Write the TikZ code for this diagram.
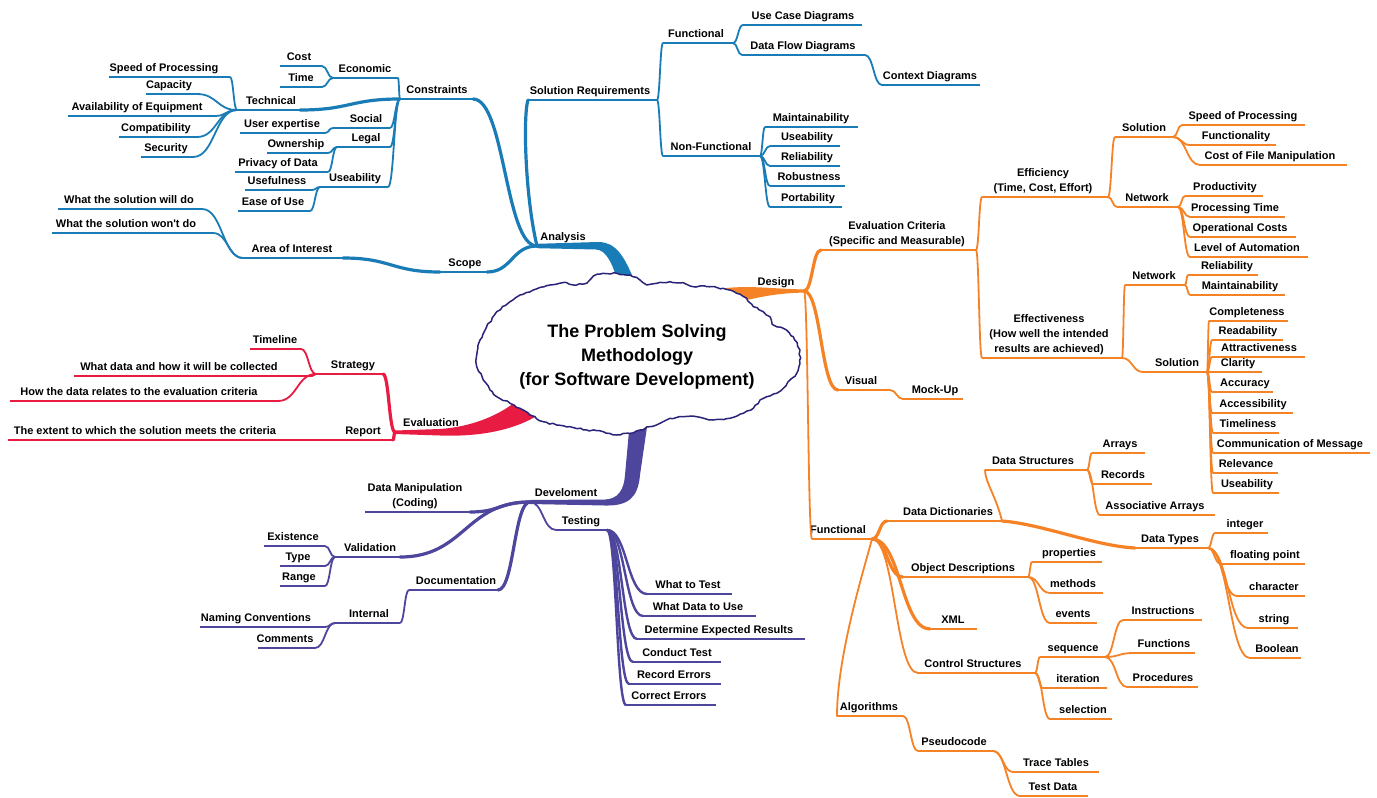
\documentclass[tikz,border=0pt]{standalone}
\usepackage{fontspec}
\setmainfont{Liberation Sans}[Ligatures=TeXOff]
\usetikzlibrary{calc,decorations.pathmorphing}

\definecolor{cblue}{RGB}{26,124,182}
\definecolor{corange}{RGB}{246,130,38}
\definecolor{cred}{RGB}{232,28,66}
\definecolor{cpurple}{RGB}{78,70,156}
\definecolor{ccloud}{RGB}{42,36,120}

\newcommand\lblfont{\fontsize{11}{15}\selectfont\bfseries}

% topic: [underline opts]{name}{colour}{x left}{x right}{y of underline}{x of text}{text}
\newcommand\topic[8][]{%
  \coordinate (#2-l) at (#4,#6);
  \coordinate (#2-r) at (#5,#6);
  \draw[#3,ul,#1] (#2-l) -- (#2-r);
  \node[lbl] (#2) at (#7,#6-3) {#8};}

% S-shaped connector leaving and entering horizontally
\newcommand\conn[3][]{\draw[cn,#1] let \p1=(#2), \p2=(#3),
  \n1={0.5*(\x2-\x1)}, \n2={-0.5*(\x2-\x1)} in
  (#2) .. controls +(\n1,0) and +(\n2,0) .. (#3);}

\tikzset{
  ul/.style={line width=2.9pt},
  cn/.style={line width=1.8pt, line cap=round},
  cnA/.style={line width=3.2pt, line cap=round},
  lbl/.style={anchor=south, inner sep=0pt, text depth=2.5pt, font=\lblfont, align=center},
}

\begin{document}
\begin{tikzpicture}[x=1pt,y=-1pt]
\useasboundingbox (0,0) rectangle (1377,798);
\fill[white] (0,0) rectangle (1377,798);

% ---- trunks from the central cloud ----
\fill[cblue] (537,243.8) -- (598,242) .. controls (615,242) and (624,254) .. (636,285)
  -- (619,285) .. controls (612,262) and (606,250) .. (596,249.5) -- (537,248.2) -- cycle;
\fill[corange] (712,290) .. controls (745,284) and (770,289) .. (804,289.4)
  -- (804,292.6) .. controls (775,293) and (755,298) .. (730,304) -- cycle;
\fill[cred] (395,430.5) -- (440,429) .. controls (470,427) and (500,416) .. (520,398)
  -- (540,414) .. controls (515,430) and (480,437) .. (440,435.5) -- (395,434) -- cycle;
\fill[cpurple] (530,500) -- (605,499.5) .. controls (618,499) and (624,490) .. (625,475)
  -- (630,420) -- (648,420) -- (640,475) .. controls (638,498) and (628,506) .. (605,505.5)
  -- (530,504) -- cycle;

% ---- central cloud ----
\draw[ccloud, line width=1.5pt, fill=white, line join=round,
      decorate, decoration={random steps, segment length=3.5pt, amplitude=0.9pt}]
  (586.7,283.3) -- (593.3,276) -- (603.3,273.3) -- (616.7,273.3) -- (630,275) -- (640,280)
  -- (646.7,285) -- (656.7,283.3) -- (670,281.7) -- (683.3,282.7) -- (693.3,286.7)
  -- (706.7,286.7) -- (723.3,288.3) -- (736.7,293.3) -- (746.7,298.3) -- (753.3,306.7)
  -- (763.3,311.7) -- (770,316.7) -- (773.3,325) -- (783.3,328.3) -- (793.3,336.7)
  -- (800,350) -- (800,363.3) -- (796.7,373.3) -- (790,380) -- (783.3,388.3) -- (776.7,393.3)
  -- (766.7,396.7) -- (760,400) -- (753.3,408.3) -- (743.3,413.3) -- (730,418.3)
  -- (713.3,420) -- (696.7,416.7) -- (683.3,416.7) -- (670,418.3) -- (660,423.3)
  -- (650,426.7) -- (640,430) -- (630,433.3) -- (616.7,435) -- (603.3,431.7) -- (586.7,430)
  -- (570,426.7) -- (556.7,425) -- (543.3,421.7) -- (530,415) -- (520,408.3) -- (510,403.3)
  -- (496.7,396.7) -- (490,390) -- (483.3,380) -- (476.7,366.7) -- (476.7,355) -- (480,340)
  -- (486.7,326.7) -- (496.7,311.7) -- (510,301.7) -- (520,295) -- (533.3,290) -- (550,285)
  -- (566.7,282.7) -- (576.7,285) -- cycle;
\node[font=\fontsize{18}{24}\selectfont\bfseries, align=center] (title) at (637,357)
  {The Problem Solving\\Methodology\\(for Software Development)};

% ================= Analysis =================
\topic[draw=none]{analysis}{cblue}{537}{600}{246}{563}{Analysis}
\topic{constraints}{cblue}{400}{473}{99}{437}{Constraints}
\topic{solreq}{cblue}{528}{657}{100}{590}{Solution Requirements}
\topic{scope}{cblue}{440}{487}{272}{465}{Scope}
\conn[cblue,cnA]{analysis-l}{constraints-r}
\conn[cblue,cnA]{analysis-l}{scope-r}
\draw[cblue,cnA] (analysis-l) .. controls +(-12,-50) and +(-5,15) .. (solreq-l);

\topic{economic}{cblue}{333}{398}{78}{365}{Economic}
\topic{technical}{cblue}{237}{300}{110}{271}{Technical}
\topic{social}{cblue}{333}{390}{128}{366}{Social}
\topic{legal}{cblue}{337}{390}{147}{366}{Legal}
\topic{useabA}{cblue}{320}{388}{187}{355}{Useability}
\foreach \c in {economic,social,legal,useabA} {\conn[cblue]{constraints-l}{\c-r}}
\conn[cblue,cnA]{constraints-l}{technical-r}

\topic{cost}{cblue}{280}{322}{66}{299}{Cost}
\topic{time}{cblue}{280}{322}{87}{301}{Time}
\conn[cblue]{economic-l}{cost-r}
\conn[cblue]{economic-l}{time-r}

\topic{speedA}{cblue}{109}{230}{77}{164}{Speed of Processing}
\topic{capacity}{cblue}{146}{197}{94}{169}{Capacity}
\topic{avail}{cblue}{68}{215}{116}{137}{Availability of Equipment}
\topic{compat}{cblue}{119}{197}{137}{156}{Compatibility}
\topic{security}{cblue}{141}{193}{157}{166}{Security}
\foreach \c in {speedA,capacity,avail,compat,security} {\conn[cblue]{technical-l}{\c-r}}

\topic{userexp}{cblue}{240}{325}{133}{282}{User expertise}
\conn[cblue]{social-l}{userexp-r}
\topic{owner}{cblue}{267}{328}{153}{296}{Ownership}
\topic{privacy}{cblue}{235}{328}{172}{278}{Privacy of Data}
\conn[cblue]{legal-l}{owner-r}
\conn[cblue]{legal-l}{privacy-r}
\topic{usefulness}{cblue}{245}{312}{190}{277}{Usefulness}
\topic{easeuse}{cblue}{238}{310}{211}{273}{Ease of Use}
\conn[cblue]{useabA-l}{usefulness-r}
\conn[cblue]{useabA-l}{easeuse-r}

\topic{aoi}{cblue}{243}{343}{258}{292}{Area of Interest}
\conn[cblue,cnA]{scope-l}{aoi-r}
\topic{willdo}{cblue}{58}{202}{209}{129}{What the solution will do}
\topic{wontdo}{cblue}{52}{213}{233}{126}{What the solution won't do}
\conn[cblue]{aoi-l}{willdo-r}
\conn[cblue]{aoi-l}{wontdo-r}

\topic{functionalA}{cblue}{663}{733}{43}{696}{Functional}
\topic{nonfunc}{cblue}{663}{760}{156}{711}{Non-Functional}
\conn[cblue]{solreq-r}{functionalA-l}
\conn[cblue]{solreq-r}{nonfunc-l}
\topic{usecase}{cblue}{743}{862}{25}{803}{Use Case Diagrams}
\topic{dataflow}{cblue}{742}{865}{55}{803}{Data Flow Diagrams}
\conn[cblue]{functionalA-r}{usecase-l}
\conn[cblue]{functionalA-r}{dataflow-l}
\topic{context}{cblue}{882}{980}{85}{930}{Context Diagrams}
\conn[cblue]{dataflow-r}{context-l}
\topic{maintA}{cblue}{765}{858}{127}{811}{Maintainability}
\topic{useabB}{cblue}{770}{840}{146}{807}{Useability}
\topic{reliabA}{cblue}{770}{840}{166}{807}{Reliability}
\topic{robust}{cblue}{770}{845}{186}{809}{Robustness}
\topic{portab}{cblue}{770}{842}{207}{808}{Portability}
\foreach \c in {maintA,useabB,reliabA,robust,portab} {\conn[cblue]{nonfunc-r}{\c-l}}

% ================= Design =================
\topic[draw=none]{design}{corange}{804}{804}{291}{776}{Design}
\topic{evalcrit}{corange}{821}{976}{250}{897}{Evaluation Criteria\\(Specific and Measurable)}
\topic{visual}{corange}{838}{890}{390}{861}{Visual}
\topic{functionalB}{corange}{812}{872}{539}{838}{Functional}
\conn[corange,cnA]{design-r}{evalcrit-l}
\conn[corange,cnA]{design-r}{visual-l}
\conn[corange]{design-r}{functionalB-l}
\topic{mockup}{corange}{903}{963}{399}{935}{Mock-Up}
\conn[corange]{visual-r}{mockup-l}

\topic{efficiency}{corange}{982}{1108}{197}{1043}{Efficiency\\(Time, Cost, Effort)}
\topic{effective}{corange}{982}{1122}{358}{1049}{Effectiveness\\(How well the intended\\results are achieved)}
\conn[corange]{evalcrit-r}{efficiency-l}
\conn[corange]{evalcrit-r}{effective-l}

\topic{solA}{corange}{1115}{1173}{137}{1144}{Solution}
\topic{netA}{corange}{1117}{1178}{207}{1147}{Network}
\conn[corange]{efficiency-r}{solA-l}
\conn[corange]{efficiency-r}{netA-l}
\topic{speedB}{corange}{1182}{1305}{125}{1243}{Speed of Processing}
\topic{functy}{corange}{1190}{1276}{145}{1236}{Functionality}
\topic{costfile}{corange}{1200}{1347}{165}{1270}{Cost of File Manipulation}
\foreach \c in {speedB,functy,costfile} {\conn[corange]{solA-r}{\c-l}}
\topic{product}{corange}{1185}{1263}{196}{1225}{Productivity}
\topic{proctime}{corange}{1190}{1285}{217}{1235}{Processing Time}
\topic{opcost}{corange}{1190}{1296}{237}{1240}{Operational Costs}
\topic{levelauto}{corange}{1190}{1308}{257}{1247}{Level of Automation}
\foreach \c in {product,proctime,opcost,levelauto} {\conn[corange]{netA-r}{\c-l}}

\topic{netB}{corange}{1125}{1185}{285}{1154}{Network}
\topic{solB}{corange}{1143}{1207}{372}{1177}{Solution}
\conn[corange]{effective-r}{netB-l}
\conn[corange]{effective-r}{solB-l}
\topic{reliabB}{corange}{1188}{1258}{275}{1227}{Reliability}
\topic{maintB}{corange}{1190}{1285}{295}{1240}{Maintainability}
\conn[corange]{netB-r}{reliabB-l}
\conn[corange]{netB-r}{maintB-l}
\topic{complete}{corange}{1209}{1288}{321}{1247}{Completeness}
\topic{readab}{corange}{1212}{1283}{340}{1248}{Readability}
\topic{attract}{corange}{1212}{1305}{357}{1259}{Attractiveness}
\topic{clarity}{corange}{1212}{1262}{372}{1238}{Clarity}
\topic{accuracy}{corange}{1212}{1273}{392}{1245}{Accuracy}
\topic{access}{corange}{1212}{1293}{413}{1253}{Accessibility}
\topic{timely}{corange}{1213}{1279}{433}{1248}{Timeliness}
\topic{commmsg}{corange}{1213}{1370}{453}{1290}{Communication of Message}
\topic{relev}{corange}{1213}{1278}{473}{1246}{Relevance}
\topic{useabC}{corange}{1213}{1279}{493}{1247}{Useability}
\foreach \c in {complete,readab,attract,clarity,accuracy,access,timely,commmsg,relev,useabC}
  {\conn[corange]{solB-r}{\c-l}}

\topic{datadict}{corange}{887}{1002}{521}{948}{Data Dictionaries}
\topic{objdesc}{corange}{903}{1028}{577}{963}{Object Descriptions}
\topic{xml}{corange}{930}{977}{629}{953}{XML}
\topic{ctrlstr}{corange}{918}{1035}{673}{973}{Control Structures}
\topic{algo}{corange}{837}{903}{716}{869}{Algorithms}
\conn[corange,cnA]{functionalB-r}{datadict-l}
\conn[corange,cnA]{functionalB-r}{objdesc-l}
\conn[corange,cnA]{functionalB-r}{xml-l}
\conn[corange]{functionalB-r}{ctrlstr-l}
\draw[corange,cn] (functionalB-r) .. controls +(-8,30) and +(0,-60) .. (algo-l);

\topic{datastr}{corange}{985}{1087}{470}{1033}{Data Structures}
\topic{datatypes}{corange}{1135}{1208}{548}{1170}{Data Types}
\draw[corange,cn] (datadict-r) .. controls +(-6,-25) and +(0,12) .. (datastr-l);
\draw[corange,cnA] (datadict-r) .. controls +(40,3) and +(-40,-2) .. (datatypes-l);
\topic{arrays}{corange}{1092}{1145}{453}{1120}{Arrays}
\topic{records}{corange}{1093}{1152}{484}{1123}{Records}
\topic{assoc}{corange}{1100}{1215}{515}{1155}{Associative Arrays}
\foreach \c in {arrays,records,assoc} {\conn[corange]{datastr-r}{\c-l}}
\topic{integer}{corange}{1215}{1268}{533}{1245}{integer}
\topic{floatp}{corange}{1221}{1305}{564}{1265}{floating point}
\topic{charac}{corange}{1237}{1305}{596}{1274}{character}
\topic{string}{corange}{1248}{1298}{628}{1274}{string}
\topic{boolean}{corange}{1250}{1301}{658}{1277}{Boolean}
\foreach \c in {integer,floatp,charac,string,boolean} {\conn[corange]{datatypes-r}{\c-l}}

\topic{props}{corange}{1032}{1102}{562}{1069}{properties}
\topic{methods}{corange}{1050}{1103}{593}{1073}{methods}
\topic{events}{corange}{1050}{1097}{623}{1073}{events}
\foreach \c in {props,methods,events} {\conn[corange]{objdesc-r}{\c-l}}

\topic{sequence}{corange}{1040}{1105}{657}{1073}{sequence}
\topic{iteration}{corange}{1043}{1107}{688}{1078}{iteration}
\topic{selection}{corange}{1050}{1112}{719}{1083}{selection}
\foreach \c in {sequence,iteration,selection} {\conn[corange]{ctrlstr-r}{\c-l}}
\topic{instr}{corange}{1123}{1202}{620}{1163}{Instructions}
\topic{funcs}{corange}{1133}{1195}{653}{1164}{Functions}
\topic{procs}{corange}{1127}{1198}{687}{1163}{Procedures}
\foreach \c in {instr,funcs,procs} {\conn[corange]{sequence-r}{\c-l}}

\topic{pseudo}{corange}{918}{993}{751}{954}{Pseudocode}
\conn[corange]{algo-r}{pseudo-l}
\topic{trace}{corange}{1013}{1099}{772}{1056}{Trace Tables}
\topic{testdata}{corange}{1020}{1088}{796}{1053}{Test Data}
\conn[corange]{pseudo-r}{trace-l}
\conn[corange]{pseudo-r}{testdata-l}

% ================= Evaluation =================
\topic[draw=none]{evaluation}{cred}{395}{460}{432}{431}{Evaluation}
\topic{strategy}{cred}{316}{383}{374}{353}{Strategy}
\topic{report}{cred}{286}{393}{440}{363}{Report}
\conn[cred,cnA]{evaluation-l}{strategy-r}
\conn[cred,cnA]{evaluation-l}{report-r}
\topic{timeline}{cred}{250}{301}{349}{275}{Timeline}
\topic{whatdata}{cred}{74}{312}{376}{179}{What data and how it will be collected}
\topic{howdata}{cred}{10}{278}{401}{139}{How the data relates to the evaluation criteria}
\foreach \c in {timeline,whatdata,howdata} {\conn[cred]{strategy-l}{\c-r}}
\topic{extent}{cred}{8}{282}{440}{145}{The extent to which the solution meets the criteria}
\conn[cred]{report-l}{extent-r}

% ================= Develoment =================
\topic[draw=none]{devel}{cpurple}{530}{617}{502}{566}{Develoment}
\topic{datamanip}{cpurple}{365}{470}{512}{415}{Data Manipulation\\(Coding)}
\topic{validation}{cpurple}{335}{400}{557}{370}{Validation}
\topic{documentation}{cpurple}{409}{498}{590}{456}{Documentation}
\topic{testing}{cpurple}{556}{607}{530}{581}{Testing}
\conn[cpurple,cnA]{devel-l}{datamanip-r}
\conn[cpurple,cnA]{devel-l}{validation-r}
\conn[cpurple,cnA]{devel-l}{documentation-r}
\conn[cpurple]{devel-l}{testing-l}

\topic{existence}{cpurple}{264}{325}{546}{293}{Existence}
\topic{type}{cpurple}{280}{325}{566}{298}{Type}
\topic{range}{cpurple}{280}{325}{586}{299}{Range}
\foreach \c in {existence,type,range} {\conn[cpurple]{validation-l}{\c-r}}
\topic{internal}{cpurple}{335}{400}{623}{369}{Internal}
\conn[cpurple]{documentation-l}{internal-r}
\topic{naming}{cpurple}{200}{325}{627}{256}{Naming Conventions}
\topic{comments}{cpurple}{258}{315}{648}{285}{Comments}
\conn[cpurple]{internal-l}{naming-r}
\conn[cpurple]{internal-l}{comments-r}

\topic{whattest}{cpurple}{647}{732}{594}{688}{What to Test}
\topic{whatdatause}{cpurple}{643}{756}{616}{698}{What Data to Use}
\topic{determine}{cpurple}{637}{805}{639}{719}{Determine Expected Results}
\topic{conduct}{cpurple}{633}{721}{662}{677}{Conduct Test}
\topic{record}{cpurple}{629}{721}{684}{674}{Record Errors}
\topic{correct}{cpurple}{626}{716}{705}{669}{Correct Errors}
\foreach \c in {whattest,whatdatause,determine,conduct,record,correct}
  {\conn[cpurple,line width=2.4pt]{testing-r}{\c-l}}
\end{tikzpicture}
\end{document}
